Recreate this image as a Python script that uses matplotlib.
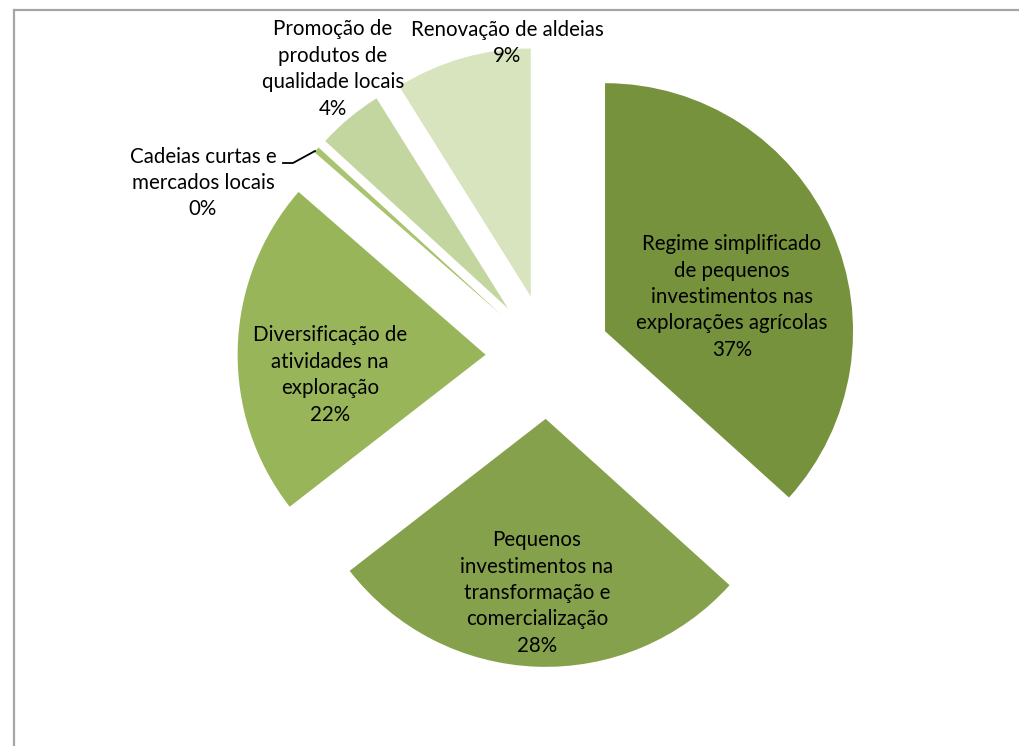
import numpy as np
import matplotlib
matplotlib.use("Agg")
from matplotlib import pyplot as plt

# data (percent of total)
categories = [
    "Regime simplificado\nde pequenos\ninvestimentos nas\nexplorações agrícolas",
    "Pequenos\ninvestimentos na\ntransformação e\ncomercialização",
    "Diversificação de\natividades na\nexploração",
    "Cadeias curtas e\nmercados locais",
    "Promoção de\nprodutos de\nqualidade locais",
    "Renovação de aldeias",
]
shares = [36.7, 27.8, 21.9, 0.4, 4.3, 8.9]
colors = ["#76923C", "#86A14B", "#98B55A", "#A8C46E", "#C3D6A0", "#D7E4BE"]

# layout (pixels, y measured from top of the picture)
W, H = 1019, 746
pie_center = (548, 356.5)
pie_radius = 248
explode_px = 62.4
label_pos = [(732, 297), (537, 593), (330, 375), (203, 183), (333, 69), (507, 43)]

plt.rcParams["font.family"] = ["Lato", "DejaVu Sans"]

fig = plt.figure(figsize=(W / 100, H / 100), dpi=100)
ax = fig.add_axes([0, 0, 1, 1])

wedges, _ = ax.pie(
    shares,
    colors=colors,
    startangle=90,
    counterclock=False,
    explode=[explode_px] * len(shares),
    radius=pie_radius,
    center=(pie_center[0], H - pie_center[1]),
    wedgeprops=dict(linewidth=0),
)
ax.set_xlim(0, W)
ax.set_ylim(0, H)
ax.set_aspect("auto")
ax.axis("off")

total = sum(shares)
for name, val, (x, y) in zip(categories, shares, label_pos):
    ax.text(x, H - y, f"{name}\n{round(val / total * 100):.0f}%",
            ha="center", va="center", fontsize=14.8, linespacing=1.4,
            color="black")

# leader line for the tiny slice
ax.plot([283, 293, 315], [H - 163, H - 163, H - 151], color="black", lw=1.3)

# chart frame (only top and left visible)
ax.plot([14, W], [H - 10, H - 10], color="#A6A6A6", lw=1.6, clip_on=False)
ax.plot([14, 14], [H - 10, 0], color="#A6A6A6", lw=1.6, clip_on=False)

fig.savefig("out.png", dpi=100)
